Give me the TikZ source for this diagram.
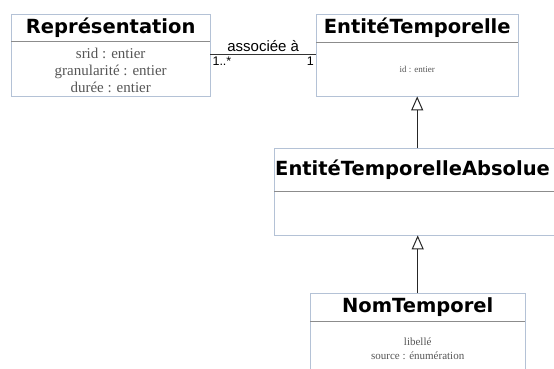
\documentclass[tikz,border=0pt]{standalone}
\usepackage{fontspec}
\setmainfont{Liberation Serif}
\setsansfont{Liberation Sans}
\newfontfamily\headfont{DejaVu Sans}
\usetikzlibrary{arrows.meta}
\definecolor{boxline}{HTML}{B4C2D6}
\definecolor{divline}{HTML}{8C8C8C}
\definecolor{attrtext}{HTML}{555555}
\begin{document}
\begin{tikzpicture}[
        x=1pt, y=-1pt,
        classhead/.style={
            draw=boxline, anchor=north west, inner sep=0pt,
            font=\headfont\bfseries\fontsize{19.5}{22}\selectfont
        },
        classbody/.style={
            draw=boxline, anchor=north west, inner sep=0pt, align=center,
            text=attrtext
        },
        assoc/.style={draw=black!80, line width=1.3pt},
        gen/.style={draw=black!85, line width=1pt, -{Triangle[open, width=12pt, length=14pt]}}
    ]
    \useasboundingbox (0,0) rectangle (554,369);
    \clip (0,0) rectangle (554,369);

    % classes
    \node[classhead, minimum width=199pt, minimum height=27pt] (repH) at (11,14) {Représentation};
    \node[classbody, minimum width=199pt, minimum height=55pt, font=\fontsize{15}{17}\selectfont] (repB) at (11,41)
        {\rule{0pt}{14pt}srid : entier\\granularité : entier\\durée : entier};
    \node[classhead, minimum width=202pt, minimum height=28pt] (etH) at (316,14) {EntitéTemporelle};
    \node[classbody, minimum width=202pt, minimum height=54pt, font=\fontsize{9}{10}\selectfont] (etB) at (316,42) {id : entier};
    \node[classhead, minimum width=300pt, minimum height=43pt, text width=298pt, align=left] (etaH) at (274,148) {EntitéTemporelleAbsolue};
    \node[classbody, minimum width=300pt, minimum height=44pt] (etaB) at (274,191) {};
    \node[classhead, minimum width=215pt, minimum height=28pt] (ntH) at (310,293) {NomTemporel};
    \node[classbody, minimum width=215pt, minimum height=55pt, font=\fontsize{11}{14}\selectfont] (ntB) at (310,321)
        {libellé\\source : énumération};

    % dividers
    \draw[divline] (repH.south west) -- (repH.south east);
    \draw[divline] (etH.south west) -- (etH.south east);
    \draw[divline] (etaH.south west) -- (etaH.south east);
    \draw[divline] (ntH.south west) -- (ntH.south east);

    % association
    \draw[assoc] ([yshift=-13.5pt]repB.north east) -- ([yshift=-12.5pt]etB.north west)
        node[midway, above, font=\sffamily\fontsize{15}{16}\selectfont, inner sep=2pt] {associée à}
        node[pos=0, below right, font=\sffamily\fontsize{12.5}{13}\selectfont, inner sep=1.5pt] {1..*}
        node[pos=1, below left, font=\sffamily\fontsize{12.5}{13}\selectfont, inner sep=1.5pt] {1};

    % generalisations
    \draw[gen] (etB.south |- etaH.north) -- (etB.south);
    \draw[gen] (ntH.north) -- (ntH.north |- etaB.south);
\end{tikzpicture}
\end{document}
